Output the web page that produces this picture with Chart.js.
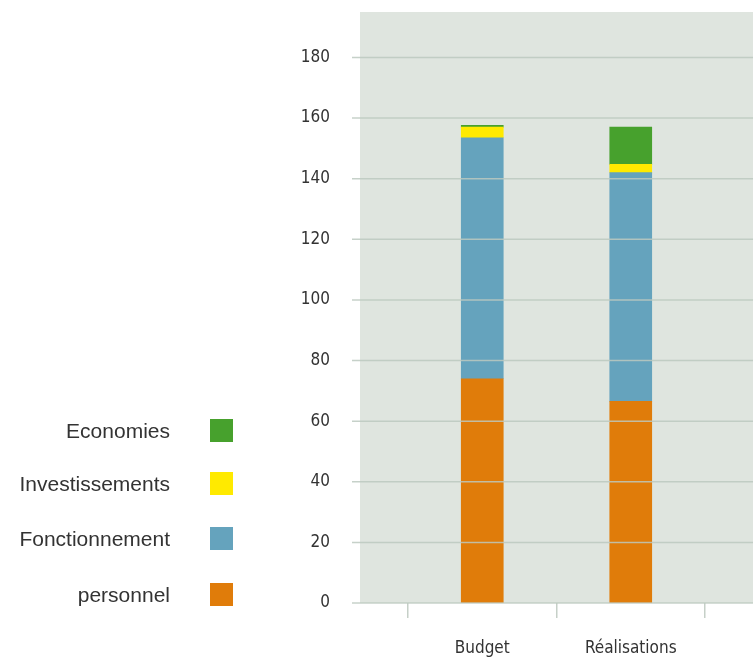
<!DOCTYPE html>
<html lang="fr">
<head>
<meta charset="utf-8">
<title>Budget / Réalisations</title>
<script src="https://cdn.jsdelivr.net/npm/chart.js@4/dist/chart.umd.min.js"></script>
<style>
  html, body { margin: 0; padding: 0; background: #fff; }
  #wrap { position: relative; width: 753px; height: 659px; }
  #legend { position: absolute; left: 0; top: 0; width: 240px; height: 659px; }
  .lg-row { position: absolute; left: 0; width: 240px; height: 23px; }
  .lg-text {
    position: absolute; right: 70px; top: 50%; transform: translateY(-50%);
    font: 21px 'Liberation Sans', Arial, sans-serif; color: #333; white-space: nowrap;
  }
  .lg-box { position: absolute; left: 210px; top: 0; width: 23px; height: 23px; }
</style>
</head>
<body>
<div id="wrap">
  <canvas id="chart"></canvas>
  <div id="legend"></div>
</div>
<script>
// ── Data ──────────────────────────────────────────────────
const categories = ['Budget', 'Réalisations'];
const personnel       = [74, 66.5];
const fonctionnement  = [79.5, 75.5];
const investissements = [3.5, 2.7];
const economies       = [0.6, 12.3];
const yTicks = [0, 20, 40, 60, 80, 100, 120, 140, 160, 180];

const COLORS = {
  personnel: '#e07c0a',
  fonctionnement: '#65a3bd',
  investissements: '#ffea00',
  economies: '#47a12d'
};

const NARROW = "'Liberation Sans Narrow', 'DejaVu Sans Condensed', sans-serif";

// ── Background panel + gridlines over the bars ────────────
const panel = {
  id: 'panel',
  beforeDraw(chart) {
    const { ctx, chartArea: a } = chart;
    ctx.save();
    ctx.fillStyle = '#dfe5df';
    ctx.fillRect(a.left - 48, a.top, chart.width - (a.left - 48), a.bottom - a.top);
    ctx.restore();
  },
  afterDatasetsDraw(chart) {
    const { ctx, chartArea: a } = chart;
    const y = chart.scales.y;
    ctx.save();
    ctx.strokeStyle = 'rgba(188,201,191,0.85)';
    ctx.lineWidth = 1.5;
    yTicks.forEach(v => {
      const py = y.getPixelForValue(v);
      ctx.beginPath();
      ctx.moveTo(a.left - 56, py);
      ctx.lineTo(chart.width, py);
      ctx.stroke();
    });
    ctx.restore();
  }
};

// ── Chart ─────────────────────────────────────────────────
const ds = (label, data, color) => ({
  label, data, backgroundColor: color, borderWidth: 0, barThickness: 42
});

new Chart(document.getElementById('chart'), {
  type: 'bar',
  data: {
    labels: categories,
    datasets: [
      ds('personnel', personnel, COLORS.personnel),
      ds('Fonctionnement', fonctionnement, COLORS.fonctionnement),
      ds('Investissements', investissements, COLORS.investissements),
      ds('Economies', economies, COLORS.economies)
    ]
  },
  options: {
    responsive: true,
    maintainAspectRatio: false,
    animation: false,
    layout: { padding: { top: 12, right: 48, bottom: 0, left: 0 } },
    plugins: { legend: { display: false }, tooltip: { enabled: false } },
    scales: {
      x: {
        stacked: true,
        afterFit: s => { s.height = 56; s.paddingLeft = 0; s.paddingRight = 0; },
        border: { display: false },
        grid: { drawOnChartArea: false, tickLength: 15, color: '#c6d0c8', lineWidth: 1.5, offset: true },
        ticks: { color: '#333', padding: 20, font: { family: NARROW, size: 17 } }
      },
      y: {
        stacked: true,
        min: 0,
        max: 195,
        afterFit: s => { s.width = 408; s.paddingTop = 0; s.paddingBottom = 0; },
        afterBuildTicks: s => { s.ticks = yTicks.map(v => ({ value: v })); },
        border: { display: false },
        grid: { display: false, drawTicks: false },
        ticks: { color: '#333', padding: 78, font: { family: NARROW, size: 17 } }
      }
    }
  },
  plugins: [panel]
});

// ── Legend (text left of the swatch, top to bottom) ───────
const legendItems = [
  ['Economies', COLORS.economies, 419],
  ['Investissements', COLORS.investissements, 472],
  ['Fonctionnement', COLORS.fonctionnement, 527],
  ['personnel', COLORS.personnel, 583]
];
document.getElementById('legend').innerHTML = legendItems.map(([name, color, top]) =>
  `<div class="lg-row" style="top:${top}px">
     <span class="lg-text">${name}</span>
     <span class="lg-box" style="background:${color}"></span>
   </div>`
).join('');
</script>
</body>
</html>
